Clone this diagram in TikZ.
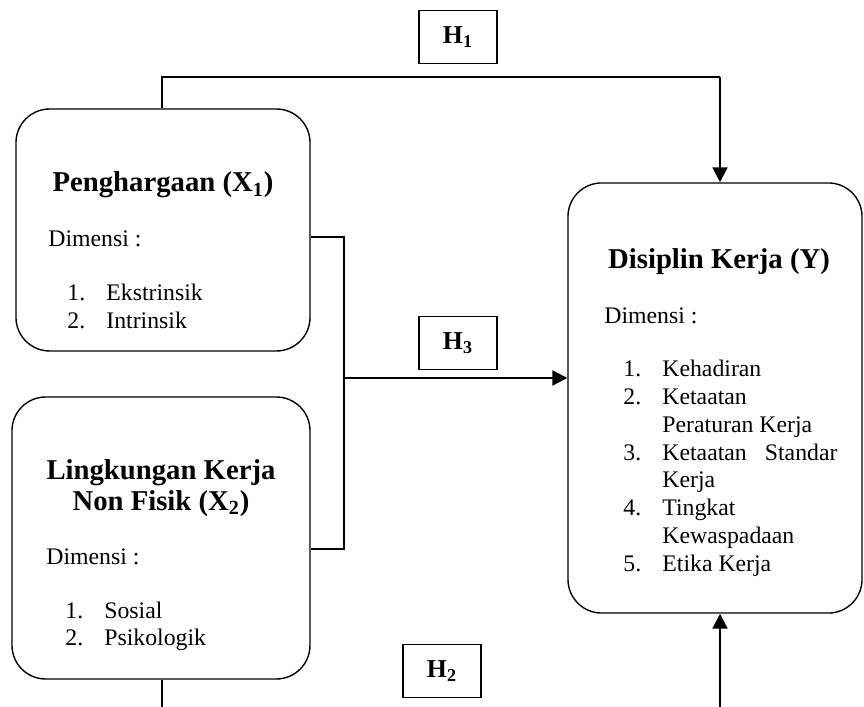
\documentclass[tikz,border=0pt]{standalone}
\usepackage{fontspec}
\setmainfont{Liberation Serif}
\usetikzlibrary{arrows.meta}

\begin{document}
\begin{tikzpicture}[x=0.505pt, y=-0.505pt,
  box/.style = {draw, line width=0.7pt, rounded corners=17pt, inner sep=0pt},
  hbox/.style = {draw, line width=0.7pt, minimum width=39.4pt,
    minimum height=27pt, inner sep=0pt,
    font=\fontsize{13}{15}\selectfont\bfseries},
  title/.style = {inner sep=0pt, align=center, anchor=base,
    font=\fontsize{14.5}{15.7}\selectfont\bfseries},
  txt/.style = {inner sep=0pt, anchor=base west,
    font=\fontsize{12}{14}\selectfont},
  line/.style = {line width=0.8pt},
  arr/.style = {line width=1.1pt, -{Triangle[width=7.5pt,length=7.5pt]}}]
  \useasboundingbox (0,0) rectangle (864,707);
  \node[box, minimum width=148.5pt, minimum height=122.2pt] (X1) at (163,230) {};
  \node[box, minimum width=150.5pt, minimum height=142.4pt] (X2) at (161,538) {};
  \node[box, minimum width=148.5pt, minimum height=217.2pt] (Y) at (715,398) {};
  \node[hbox] (H1) at (458,37) {H\textsubscript{1}};
  \node[hbox] (H3) at (458,343) {H\textsubscript{3}};
  \node[hbox] (H2) at (442,671) {H\textsubscript{2}};
  \node[title] (x1t) at (163,192) {Penghargaan (X\textsubscript{1})};
  \node[txt] (x1d) at (48,247) {Dimensi :};
  \node[txt] (x1l) at (67,301) {\begin{tabular}[t]{@{}p{19.7pt}@{}l@{}}
    1.&Ekstrinsik\\
    2.&Intrinsik
  \end{tabular}};
  \node[title, anchor=north] (x2t) at (161,459) {Lingkungan Kerja\\Non Fisik (X\textsubscript{2})};
  \node[txt] (x2d) at (46,564) {Dimensi :};
  \node[txt] (x2l) at (65,618) {\begin{tabular}[t]{@{}p{19.7pt}@{}l@{}}
    1.&Sosial\\
    2.&Psikologik
  \end{tabular}};
  \node[title] (yt) at (719,269) {Disiplin Kerja (Y)};
  \node[txt] (yd) at (604,324) {Dimensi :};
  \node[txt] (yl) at (623,377) {\begin{tabular}[t]{@{}p{19.7pt}@{}l@{}}
    1.&Kehadiran\\
    2.&Ketaatan\\
    &Peraturan Kerja\\
    3.&\makebox[88.4pt][l]{Ketaatan\hfill Standar}\\
    &Kerja\\
    4.&Tingkat\\
    &Kewaspadaan\\
    5.&Etika Kerja
  \end{tabular}};
  \coordinate (h1a) at (162,77);
  \coordinate (h1b) at (720,77);
  \coordinate (jt) at (344,237);
  \coordinate (jm) at (344,378);
  \coordinate (jb) at (344,549);
  \coordinate (h2a) at (162,707);
  \coordinate (h2b) at (720,707);
  \draw[line] (X1.north -| h1a) -- (h1a) -- (h1b);
  \draw[arr] (h1b) -- (Y.north -| h1b);
  \draw[line] (X1.east |- jt) -- (jt) -- (jb) -- (X2.east |- jb);
  \draw[arr] (jm) -- (Y.west |- jm);
  \draw[line] (X2.south -| h2a) -- (h2a);
  \draw[arr] (h2b) -- (Y.south -| h2b);
\end{tikzpicture}
\end{document}
